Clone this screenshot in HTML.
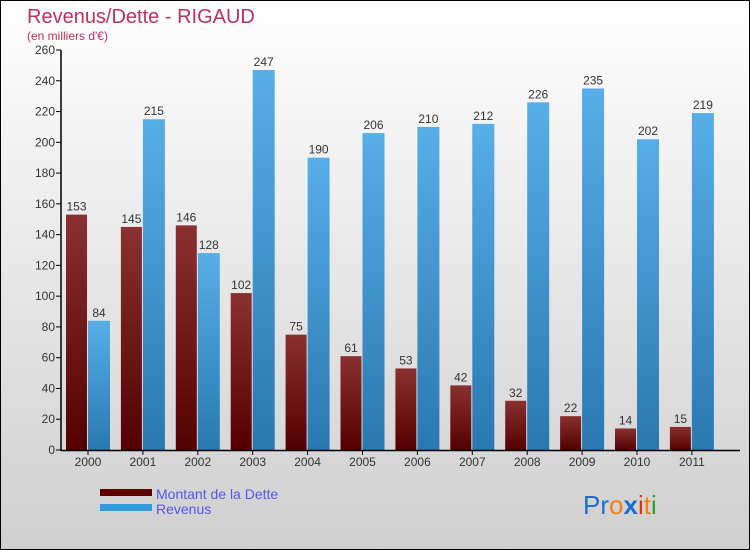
<!DOCTYPE html>
<html><head><meta charset="utf-8"><style>
body{margin:0}
#c{width:750px;height:550px;position:relative;overflow:hidden}
text{font-family:"Liberation Sans",sans-serif}
</style></head><body>
<div id="c">
<svg id="svg" width="750" height="550" xmlns="http://www.w3.org/2000/svg">
<defs>
<linearGradient id="bg" x1="0" y1="0" x2="0" y2="1"><stop offset="0" stop-color="#ffffff"/><stop offset="1" stop-color="#cfcfcf"/></linearGradient>
<linearGradient id="gd" x1="0" y1="0" x2="0" y2="1"><stop offset="0" stop-color="#8a3030"/><stop offset="1" stop-color="#540000"/></linearGradient>
<linearGradient id="gr" x1="0" y1="0" x2="0" y2="1"><stop offset="0" stop-color="#58aee8"/><stop offset="1" stop-color="#2a78b0"/></linearGradient>
</defs>
<rect x="0.5" y="0.5" width="749" height="549" fill="url(#bg)" stroke="#000"/>
<text x="27" y="23" font-size="20" fill="#c0305a">Revenus/Dette - RIGAUD</text>
<text x="27" y="40" font-size="12" fill="#c0305a">(en milliers d'€)</text>
<g id="plot"></g>
<rect x="100" y="489" width="52" height="7" fill="#5c0000"/>
<text x="156" y="499" font-size="14" fill="#5555ee">Montant de la Dette</text>
<rect x="100" y="504" width="52" height="7" fill="#3399dd"/>
<text x="156" y="514" font-size="14" fill="#5555ee">Revenus</text>
<text x="583" y="514" font-size="26" font-family="Liberation Sans"><tspan fill="#1a6fcc">Pr</tspan><tspan fill="#f08010">o</tspan><tspan fill="#1a6fcc" font-weight="bold">x</tspan><tspan fill="#e03010">i</tspan><tspan fill="#f08010">t</tspan><tspan fill="#30a030">i</tspan></text>
</svg>
</div>
<script>
const years=["2000","2001","2002","2003","2004","2005","2006","2007","2008","2009","2010","2011"];
const dette=[153,145,146,102,75,61,53,42,32,22,14,15];
const revenus=[84,215,128,247,190,206,210,212,226,235,202,219];
const yTicks=[0,20,40,60,80,100,120,140,160,180,200,220,240,260];
const NS="http://www.w3.org/2000/svg";
const g=document.getElementById('plot');
const y0=450,yTop=50,yMax=260;
function yS(v){return y0-(v/yMax)*(y0-yTop);}
function xC(i){return 88+i*54.9;}
function mk(t,a){const e=document.createElementNS(NS,t);for(const k in a)e.setAttribute(k,a[k]);g.appendChild(e);return e;}
yTicks.forEach(v=>{
  const l=mk('line',{x1:56,x2:61,y1:yS(v),y2:yS(v),stroke:'#000'});
  
  
  const t=mk('text',{x:55,y:yS(v)+4,'font-size':12,fill:'#333','text-anchor':'end'});
  t.textContent=v;
  
  
});
years.forEach((yr,i)=>{
  const c=xC(i);
  const b1=mk('rect',{x:c-22,y:yS(dette[i]),width:21,height:y0-yS(dette[i]),fill:'url(#gd)'});
  
  
  const t1=mk('text',{x:c-11.5,y:yS(dette[i])-4,'font-size':12,fill:'#333','text-anchor':'middle'});
  t1.textContent=dette[i];
  
  
  const b2=mk('rect',{x:c,y:yS(revenus[i]),width:22,height:y0-yS(revenus[i]),fill:'url(#gr)'});
  
  
  const t2=mk('text',{x:c+11,y:yS(revenus[i])-4,'font-size':12,fill:'#333','text-anchor':'middle'});
  t2.textContent=revenus[i];
  
  
  const tk=mk('line',{x1:c,x2:c,y1:450,y2:455,stroke:'#000'});
  
  
  const xl=mk('text',{x:c,y:466,'font-size':12,fill:'#333','text-anchor':'middle'});
  xl.textContent=yr;
  
  
});
const ya=mk('line',{x1:61,x2:61,y1:50,y2:451,stroke:'#000','stroke-width':1.5});


const xa=mk('line',{x1:61,x2:740,y1:450.5,y2:450.5,stroke:'#000','stroke-width':1.5});


</script>
</body></html>
